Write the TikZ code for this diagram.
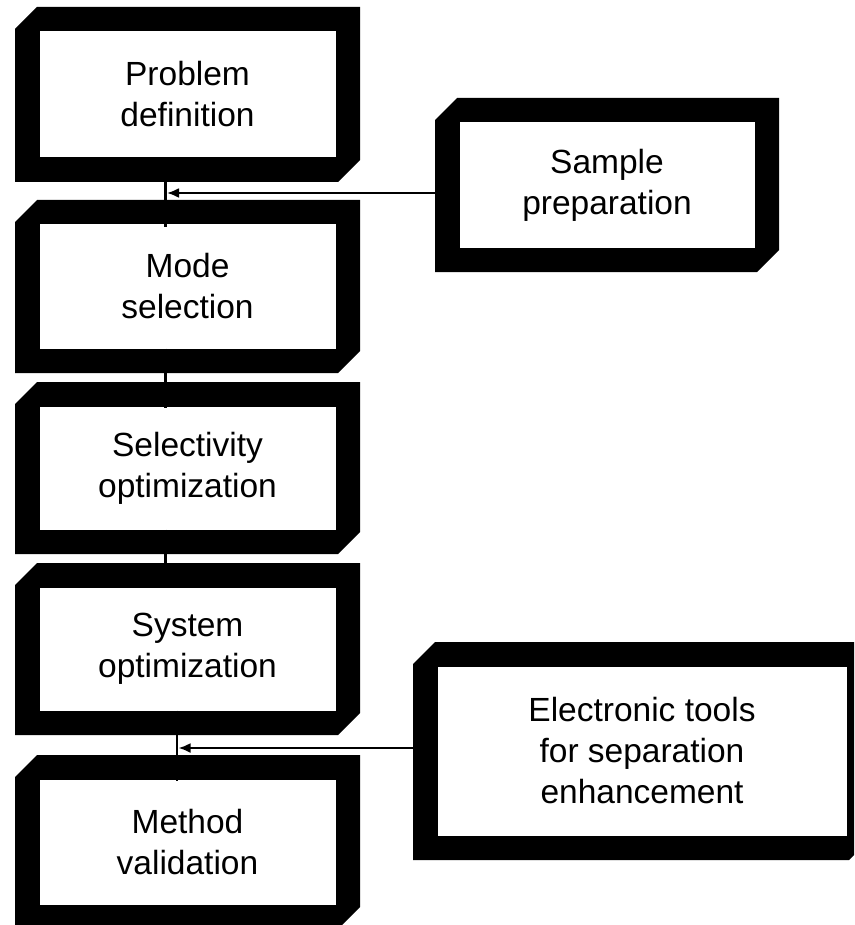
\documentclass[tikz,border=0pt]{standalone}
\usepackage{fontspec}
\setmainfont{Liberation Sans}
\usetikzlibrary{arrows.meta}
\tikzset{
  innerbox/.style={fill=white, draw=none, inner sep=0pt, align=center,
    font=\fontsize{33.5}{41}\selectfont},
  conn/.style={line width=2.2pt, black},
  arr/.style={line width=2.2pt, black, -{Latex[length=12pt,width=10pt]}}
}
\newcommand\cbox[6]{%
  \pgfmathsetmacro\cw{#4-#2-49}%
  \pgfmathsetmacro\ch{#5-#3-49}%
  \fill[black] (#2,#3+22) -- (#2+22,#3) -- (#4,#3) -- (#4,#5-22) -- (#4-22,#5) -- (#2,#5) -- cycle;
  \node[innerbox, minimum width=\cw pt, minimum height=\ch pt] (#1) at ({(#2+#4)/2},{(#3+#5)/2}) {#6};
}
\begin{document}
\begin{tikzpicture}[x=1pt,y=-1pt]
\useasboundingbox (0,0) rectangle (854,925);
\clip (0,0) rectangle (854,925);
\fill[white] (0,0) rectangle (854,925);
\cbox{b1}{15}{7}{360}{182}{Problem\\definition}
\cbox{b2}{15}{200}{360}{373}{Mode\\selection}
\cbox{b3}{15}{382}{360}{554}{Selectivity\\optimization}
\cbox{b4}{15}{563}{360}{735}{System\\optimization}
\cbox{b5}{15}{755}{360}{929}{Method\\validation}
\cbox{sp}{435}{98}{779}{272}{Sample\\preparation}
\cbox{et}{413}{642}{871}{860}{Electronic tools\\for separation\\enhancement}
\coordinate (v1) at (165.5,0);
\coordinate (v2) at (177,0);
\coordinate (a1) at (167,193);
\coordinate (a2) at (178.5,748);
\draw[conn] (b1.south -| v1) -- ([yshift=-3pt]b2.north -| v1);
\draw[conn] (b2.south -| v1) -- ([yshift=-2pt]b3.north -| v1);
\draw[conn] (b3.south -| v1) -- ([yshift=-1pt]b4.north -| v1);
\draw[conn] (b4.south -| v2) -- ([yshift=-2pt]b5.north -| v2);
\draw[arr] (sp.west |- a1) -- (a1);
\draw[arr] (et.west |- a2) -- (a2);
\end{tikzpicture}
\end{document}
